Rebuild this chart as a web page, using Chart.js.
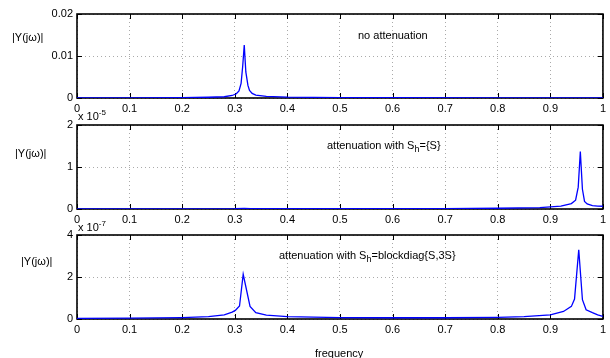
<!DOCTYPE html>
<html>
<head>
<meta charset="utf-8">
<script src="https://cdn.jsdelivr.net/npm/chart.js@4/dist/chart.umd.min.js"></script>
<style>
body{margin:0;background:#fff;width:610px;height:358px;position:relative;overflow:hidden;font-family:"Liberation Sans",Arial,sans-serif;}
canvas{position:absolute;left:0;}
.lbl{position:absolute;font-size:11px;color:#000;white-space:nowrap;line-height:12px;}
.lbl sub{font-size:9px;vertical-align:-3px;line-height:0;}
.lbl sup{font-size:8px;vertical-align:5px;line-height:0;}
</style>
</head>
<body>
<canvas id="graf1" width="610" height="120" style="top:0px"></canvas>
<canvas id="graf2" width="610" height="120" style="top:111px"></canvas>
<canvas id="graf3" width="610" height="137" style="top:221px"></canvas>

<div class="lbl" style="left:12px;top:31px">|Y(jω)|</div>
<div class="lbl" style="left:15px;top:147px">|Y(jω)|</div>
<div class="lbl" style="left:21px;top:255px">|Y(jω)|</div>

<div class="lbl" style="left:358px;top:29px">no attenuation</div>
<div class="lbl" style="left:327px;top:139px">attenuation with S<sub>h</sub>={S}</div>
<div class="lbl" style="left:279px;top:249px">attenuation with S<sub>h</sub>=blockdiag{S,3S}</div>

<div class="lbl" style="left:78px;top:110px">x 10<sup>-5</sup></div>
<div class="lbl" style="left:78px;top:221px">x 10<sup>-7</sup></div>

<div class="lbl" style="left:315px;top:347px">frequency</div>

<script>
// frequencia (eixo x) e |Y(jw)| de cada grafico
const freq1 = [0, 0.1, 0.2, 0.25, 0.28, 0.295, 0.303, 0.308, 0.312, 0.315, 0.318, 0.321, 0.325, 0.328, 0.333, 0.34, 0.36, 0.4, 0.5, 0.6, 0.8, 1];
const mag1 = [0.00002, 0.00004, 0.0001, 0.00018, 0.0003, 0.0006, 0.001, 0.0017, 0.0035, 0.0075, 0.0126, 0.0062, 0.003, 0.0018, 0.0011, 0.0007, 0.0004, 0.0002, 0.0001, 0.00006, 0.00004, 0.00003];

// valores em unidades de 1e-5
const freq2 = [0, 0.2, 0.3, 0.318, 0.33, 0.5, 0.7, 0.8, 0.88, 0.92, 0.94, 0.948, 0.953, 0.957, 0.961, 0.965, 0.97, 0.98, 0.99, 1];
const mag2 = [0.002, 0.004, 0.006, 0.012, 0.006, 0.007, 0.01, 0.018, 0.035, 0.07, 0.13, 0.21, 0.52, 1.37, 0.47, 0.18, 0.12, 0.08, 0.07, 0.065];

// valores em unidades de 1e-7
const freq3 = [0, 0.1, 0.2, 0.25, 0.28, 0.295, 0.301, 0.309, 0.316, 0.329, 0.34, 0.36, 0.4, 0.5, 0.6, 0.7, 0.8, 0.85, 0.9, 0.925, 0.94, 0.946, 0.954, 0.961, 0.968, 0.98, 0.99, 1];
const mag3 = [0.03, 0.04, 0.07, 0.11, 0.2, 0.33, 0.41, 0.62, 2.13, 0.6, 0.3, 0.18, 0.11, 0.07, 0.06, 0.06, 0.08, 0.11, 0.2, 0.36, 0.6, 0.95, 3.3, 0.92, 0.44, 0.3, 0.2, 0.12];

const xTicks = [0, 0.1, 0.2, 0.3, 0.4, 0.5, 0.6, 0.7, 0.8, 0.9, 1];
const yTicks1 = [0, 0.01, 0.02];
const yTicks2 = [0, 1, 2];
const yTicks3 = [0, 2, 4];

const fonte = {family: '"Liberation Sans", Arial, sans-serif', size: 11};

// moldura preta + ticks para dentro (estilo matlab)
const moldura = {
    id: 'moldura',
    beforeDatasetsDraw(chart) {
        const ctx = chart.ctx;
        const a = chart.chartArea;
        const sx = chart.scales.x;
        const sy = chart.scales.y;
        ctx.save();
        ctx.strokeStyle = '#000';
        ctx.lineWidth = 1;
        ctx.beginPath();
        sx.ticks.forEach(t => {
            const px = Math.round(sx.getPixelForValue(t.value)) + 0.5;
            ctx.moveTo(px, a.bottom); ctx.lineTo(px, a.bottom - 5);
            ctx.moveTo(px, a.top); ctx.lineTo(px, a.top + 5);
        });
        sy.ticks.forEach(t => {
            const py = Math.round(sy.getPixelForValue(t.value)) + 0.5;
            ctx.moveTo(a.left, py); ctx.lineTo(a.left + 5, py);
            ctx.moveTo(a.right, py); ctx.lineTo(a.right - 5, py);
        });
        ctx.stroke();
        ctx.lineWidth = 1.6;
        ctx.strokeRect(a.left, a.top, a.right - a.left, a.bottom - a.top);
        ctx.restore();
    }
};

function desenhaGrafico(id, freq, mag, yTicks, padBaixo) {
    const pontos = freq.map((f, i) => ({x: f, y: mag[i]}));
    const ctx = document.getElementById(id).getContext('2d');
    new Chart(ctx, {
        type: 'line',
        data: {
            datasets: [{
                data: pontos,
                borderColor: '#0000ff',
                borderWidth: 1.3,
                pointRadius: 0,
                tension: 0,
                fill: false
            }]
        },
        options: {
            responsive: false,
            animation: false,
            layout: {padding: {left: 0, right: 5, top: 14, bottom: padBaixo}},
            plugins: {legend: {display: false}, tooltip: {enabled: false}},
            scales: {
                x: {
                    type: 'linear',
                    min: 0,
                    max: 1,
                    afterBuildTicks: s => { s.ticks = xTicks.map(v => ({value: v})); },
                    afterFit: s => { s.height = 22; },
                    grid: {color: '#aaa', lineWidth: 1, drawTicks: false},
                    border: {display: false, dash: [1, 3]},
                    ticks: {color: '#000', font: fonte, padding: 4, maxRotation: 0,
                        callback: v => String(Math.round(v * 10) / 10)}
                },
                y: {
                    type: 'linear',
                    min: yTicks[0],
                    max: yTicks[yTicks.length - 1],
                    afterBuildTicks: s => { s.ticks = yTicks.map(v => ({value: v})); },
                    afterFit: s => { s.width = 77; },
                    grid: {color: '#aaa', lineWidth: 1, drawTicks: false},
                    border: {display: false, dash: [1, 3]},
                    ticks: {color: '#000', font: fonte, padding: 4,
                        callback: v => String(Math.round(v * 1000) / 1000)}
                }
            }
        },
        plugins: [moldura]
    });
}

desenhaGrafico('graf1', freq1, mag1, yTicks1, 0);
desenhaGrafico('graf2', freq2, mag2, yTicks2, 0);
desenhaGrafico('graf3', freq3, mag3, yTicks3, 17);
</script>
</body>
</html>
